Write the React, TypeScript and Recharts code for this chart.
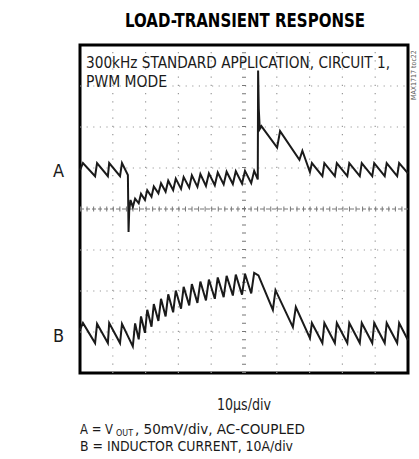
import React from "react";
import { LineChart, Line, XAxis, YAxis, ReferenceLine, ReferenceArea } from "recharts";

// time in µs (10µs/div), trace values in screen divisions
const timeTicks = [0, 10, 20, 30, 40, 50, 60, 70, 80, 90, 100];
const divTicks = [-4, -3, -2, -1, 0, 1, 2, 3, 4];

const vOutTime = [
  0, 0.9, 4.6, 5.2, 8.5, 8.9, 12.2, 12.8, 14.6, 14.8, 15.0, 15.4,
  16.1, 16.8, 17.9, 18.6, 19.8, 20.5, 21.8, 22.5, 23.9, 24.7, 26.1, 26.9,
  28.4, 29.2, 30.8, 31.6, 33.3, 34.1, 35.8, 36.7, 38.4, 39.3, 41.1, 42.0,
  43.8, 44.7, 46.6, 47.5, 49.4, 50.3, 52.2, 53.1, 54.2, 54.3, 54.5, 54.8,
  55.3, 60.1, 61.0, 66.9, 67.8, 70.1, 70.7, 73.9, 74.5, 77.7, 78.3, 81.5,
  82.1, 85.3, 85.9, 89.1, 89.7, 92.9, 93.5, 96.7, 97.3, 100,
];
const vOutDiv = [
  0.95, 1.12, 0.8, 1.12, 0.8, 1.12, 0.8, 1.12, 0.83, -0.56, -0.05, 0.22,
  0.05, 0.25, 0.14, 0.37, 0.22, 0.46, 0.3, 0.55, 0.38, 0.63, 0.42, 0.69,
  0.46, 0.74, 0.49, 0.78, 0.52, 0.82, 0.54, 0.85, 0.56, 0.87, 0.58, 0.89,
  0.6, 0.91, 0.61, 0.92, 0.62, 0.93, 0.63, 0.93, 0.72, 3.38, 2.45, 1.95,
  2.02, 1.5, 1.9, 1.2, 1.42, 0.9, 1.12, 0.8, 1.12, 0.8, 1.12, 0.8,
  1.12, 0.8, 1.12, 0.8, 1.12, 0.8, 1.12, 0.8, 1.12, 0.87,
];

const inductorTime = [
  0, 0.9, 4.6, 5.2, 8.5, 8.9, 12.2, 12.8, 16.1,
  16.8, 17.9, 18.6, 19.8, 20.5, 21.8, 22.5, 23.9, 24.7, 26.1, 26.9,
  28.4, 29.2, 30.8, 31.6, 33.3, 34.1, 35.8, 36.7, 38.4, 39.3, 41.1, 42.0,
  43.8, 44.7, 46.6, 47.5, 49.4, 50.3, 52.2, 53.1, 54.4, 58.8, 59.6, 64.9,
  65.8, 70.1, 70.7, 73.9, 74.5, 77.7, 78.3, 81.5, 82.1, 85.3, 85.9, 89.1,
  89.7, 92.9, 93.5, 96.7, 97.3, 100,
];
const inductorDiv = [
  -2.95, -2.78, -3.27, -2.8, -3.27, -2.78, -3.27, -2.8, -3.35,
  -2.79, -3.18, -2.62, -3.02, -2.46, -2.87, -2.32, -2.73, -2.19, -2.62, -2.08,
  -2.52, -1.99, -2.43, -1.9, -2.35, -1.83, -2.29, -1.77, -2.23, -1.72, -2.19, -1.67,
  -2.15, -1.63, -2.11, -1.6, -2.09, -1.58, -2.06, -1.56, -1.62, -2.46, -1.98, -2.88,
  -2.39, -3.15, -2.78, -3.27, -2.78, -3.27, -2.78, -3.27, -2.78, -3.27, -2.78, -3.27,
  -2.78, -3.27, -2.78, -3.27, -2.78, -3.2,
];

const traceA = vOutTime.map((t, i) => ({ t, v: vOutDiv[i] }));
const traceB = inductorTime.map((t, i) => ({ t, v: inductorDiv[i] }));

const FONT = "'Liberation Sans Narrow', 'DejaVu Sans Condensed', 'Liberation Sans', sans-serif";
const GRID = "#9a9a9a";
const INK = "#1a1a1a";

export default function App() {
  return (
    <div style={{ position: "absolute", left: 0, top: 0, width: 419, height: 459, background: "#fff" }}>
      <LineChart width={419} height={459} margin={{ top: 45, right: 11, bottom: 86, left: 80 }}>
        <XAxis type="number" dataKey="t" domain={[0, 100]} ticks={timeTicks} hide />
        <YAxis type="number" domain={[-4, 4]} ticks={divTicks} hide />
        {timeTicks.slice(1, -1).filter((t) => t !== 50).map((t) => (
          <ReferenceLine key={"x" + t} x={t} stroke={GRID} strokeWidth={1.2} strokeDasharray="1.2 7" />
        ))}
        {divTicks.slice(1, -1).filter((d) => d !== 0).map((d) => (
          <ReferenceLine key={"y" + d} y={d} stroke={GRID} strokeWidth={1.2} strokeDasharray="1.2 5.4" />
        ))}
        <ReferenceLine x={50} stroke="#777" strokeWidth={4} strokeDasharray="1 7.2" />
        <ReferenceLine y={0} stroke="#777" strokeWidth={1} strokeDasharray="4 2" />
        <ReferenceLine y={0} stroke="#777" strokeWidth={5} strokeDasharray="1 5.56" />
        <Line data={traceA} dataKey="v" type="linear" stroke={INK} strokeWidth={2} dot={false} isAnimationActive={false} />
        <Line data={traceB} dataKey="v" type="linear" stroke={INK} strokeWidth={2} dot={false} isAnimationActive={false} />
        <ReferenceArea x1={0} x2={100} y1={-4} y2={4} fill="none" stroke="#000" strokeWidth={3} />
      </LineChart>
      <svg width={419} height={459} style={{ position: "absolute", left: 0, top: 0, pointerEvents: "none" }}>
        <text x={125} y={27} fontFamily={FONT} fontWeight={700} fontSize={19} fill="#000" textLength={240} lengthAdjust="spacingAndGlyphs">
          LOAD-TRANSIENT RESPONSE
        </text>
        <text fontFamily={FONT} fontSize={16.5} fill={INK}>
          <tspan x={86} y={68} textLength={304} lengthAdjust="spacingAndGlyphs">300kHz STANDARD APPLICATION, CIRCUIT 1,</tspan>
          <tspan x={86} y={87} textLength={81} lengthAdjust="spacingAndGlyphs">PWM MODE</tspan>
        </text>
        <text x={53} y={177} fontFamily={FONT} fontSize={18} fill={INK}>A</text>
        <text x={53} y={342} fontFamily={FONT} fontSize={18} fill={INK}>B</text>
        <text x={416} y={100} fontFamily={FONT} fontSize={7} fill="#555" transform="rotate(-90 416 100)">
          MAX1717 toc22
        </text>
        <text x={217} y={410} fontFamily={FONT} fontSize={16.5} fill={INK} textLength={54} lengthAdjust="spacingAndGlyphs">
          10µs/div
        </text>
        <text fontFamily={FONT} fontSize={14} fill={INK}>
          <tspan x={80} y={434} textLength={33} lengthAdjust="spacingAndGlyphs">A = V</tspan>
          <tspan x={116} y={436} fontSize={9.5} textLength={17} lengthAdjust="spacingAndGlyphs">OUT</tspan>
          <tspan x={135} y={434} textLength={170} lengthAdjust="spacingAndGlyphs">, 50mV/div, AC-COUPLED</tspan>
          <tspan x={80} y={451} textLength={213} lengthAdjust="spacingAndGlyphs">B = INDUCTOR CURRENT, 10A/div</tspan>
        </text>
      </svg>
    </div>
  );
}
